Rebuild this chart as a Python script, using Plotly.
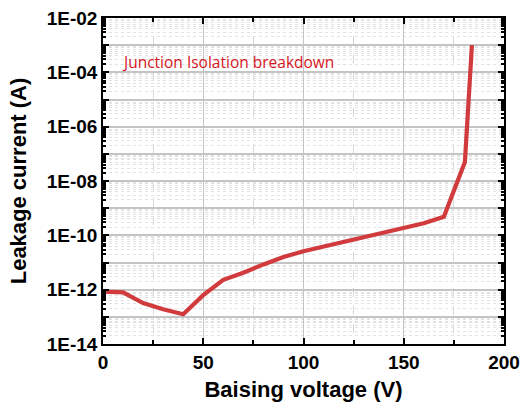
import plotly.graph_objects as go

# Bias sweep (V) and measured leakage current (A)
voltage = [0, 10, 20, 30, 40, 50, 60, 70, 80, 90, 100, 110, 120, 130, 140, 150, 160, 170, 180.5, 184]
current = [8.5e-13, 8.0e-13, 3.2e-13, 1.9e-13, 1.25e-13, 6.3e-13, 2.3e-12, 4.2e-12, 8.5e-12,
           1.6e-11, 2.6e-11, 3.9e-11, 5.9e-11, 8.6e-11, 1.3e-10, 1.9e-10, 2.8e-10, 4.8e-10,
           5.0e-8, 1.0e-3]

y_tick_vals = [10.0 ** e for e in range(-14, -1)]
y_tick_text = ["1E%03d" % e if e % 2 == 0 else "" for e in range(-14, -1)]
x_tick_vals = [0, 50, 100, 150, 200]

fig = go.Figure()
fig.add_trace(go.Scatter(
    x=voltage, y=current, mode="lines",
    line=dict(color="#d13b3d", width=4.2),
    hoverinfo="skip", showlegend=False,
))

fig.add_annotation(
    x=0.043, y=0.866, xref="paper", yref="paper",
    text="Junction Isolation breakdown", showarrow=False,
    xanchor="left", yanchor="middle",
    font=dict(family="Open Sans", size=15.5, color="#d4161c"),
)

axis_font = dict(family="Liberation Sans", size=19, color="black", weight="bold")
title_font = dict(family="Liberation Sans", size=22, color="black")

fig.update_xaxes(
    range=[0, 200], tickvals=x_tick_vals,
    ticks="inside", ticklen=6, tickwidth=1.5, tickcolor="black",
    showline=True, linecolor="black", linewidth=1.5, mirror="ticks",
    showgrid=True, gridcolor="#c4c4c4", gridwidth=1.2,
    minor=dict(dtick=25, tick0=0, ticks="inside", ticklen=4, tickcolor="black",
               showgrid=True, gridcolor="#d8d8d8", griddash="dash", gridwidth=1),
    tickfont=axis_font,
    title=dict(text="<b>Baising voltage (V)</b>", font=title_font, standoff=10),
    zeroline=False, automargin=False,
)
fig.update_yaxes(
    type="log", range=[-14, -2], tickvals=y_tick_vals, ticktext=y_tick_text,
    ticks="inside", ticklen=6, tickwidth=2, tickcolor="black",
    showline=True, linecolor="black", linewidth=1.5, mirror="ticks",
    showgrid=True, gridcolor="#c4c4c4", gridwidth=1.5,
    minor=dict(dtick="D1", ticks="inside", ticklen=3, tickcolor="black",
               showgrid=True, gridcolor="#e2e2e2", griddash="dot", gridwidth=1),
    tickfont=axis_font,
    title=dict(text="<b>Leakage current (A)</b>", font=title_font, standoff=14),
    zeroline=False, automargin=False,
)

fig.update_layout(
    width=523, height=408,
    margin=dict(l=103, r=19, t=18, b=64),
    plot_bgcolor="white", paper_bgcolor="white",
)

fig.write_html("out.html")
